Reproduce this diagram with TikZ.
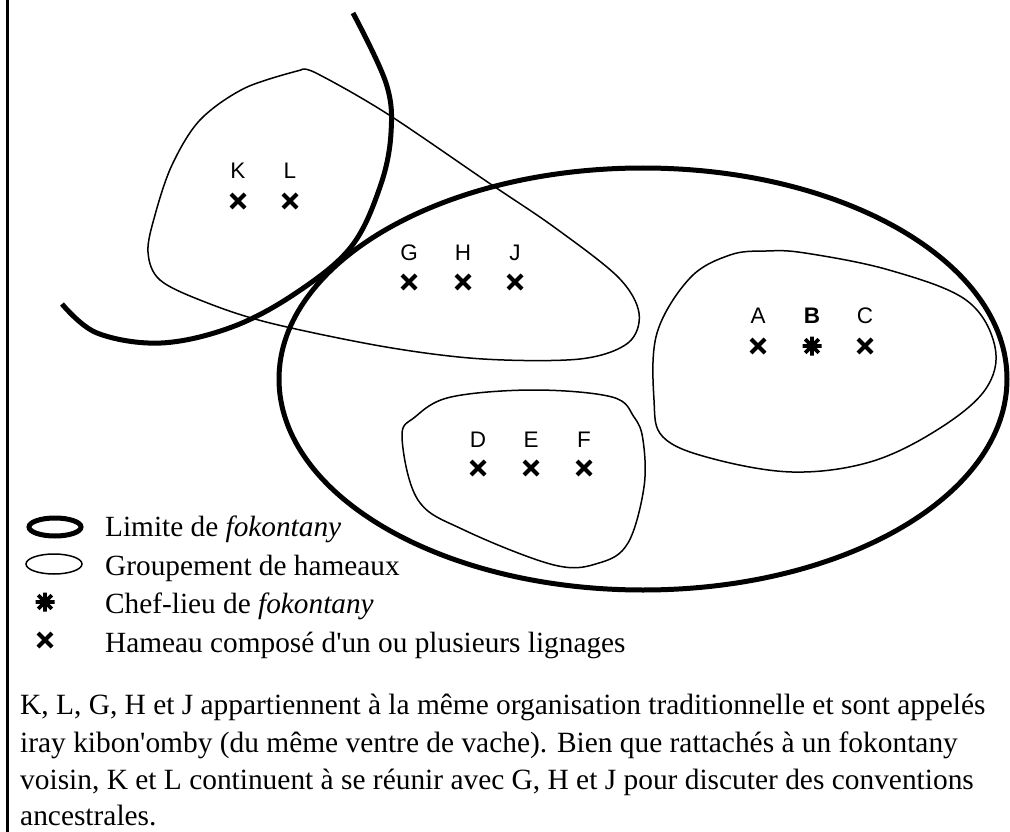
\documentclass[tikz,border=0pt]{standalone}
\usepackage{fontspec}
\setmainfont{Liberation Serif}
\setsansfont{Liberation Sans}
\begin{document}
\begin{tikzpicture}[x=1pt,y=-1pt,
  boundary/.style={line width=5pt},
  groupline/.style={line width=1.5pt},
  lbl/.style={font=\sffamily\fontsize{22.5}{22.5}\selectfont, inner sep=0pt},
  legtext/.style={font=\fontsize{29.3}{29.3}\selectfont, inner sep=0pt, anchor=base west},
  para/.style={font=\fontsize{29.4}{29.4}\selectfont, inner sep=0pt, anchor=base west},
  pics/hamlet/.style={code={\draw[line width=4pt] (-7,-7)--(7,7) (-7,7)--(7,-7);}},
  pics/chef/.style={code={\draw[line width=3.8pt] (-9.5,0)--(9.5,0) (0,-9.5)--(0,9.5) (-6.8,-6.8)--(6.8,6.8) (-6.8,6.8)--(6.8,-6.8);}}
]
\useasboundingbox (0,0) rectangle (1010,832);
% left frame line
\draw[line width=3pt] (7,0) -- (7,832);

% fokontany boundaries
\draw[boundary] (643,379) ellipse [x radius=364, y radius=211];
\draw[boundary] plot[smooth, tension=0.6] coordinates {(353,13) (386,83) (391,133) (380,187) (351,247) (296,293) (232,327) (161,343) (97,333) (62,304)};

% groupements
\draw[groupline] plot[smooth, tension=0.55] coordinates {(301,70) (245,88) (200,120) (172,165) (155,215) (148,252) (160,280) (205,302) (270,323) (386,347) (483,359) (580,359) (628,343) (639,313) (618,277) (554,227) (489,183) (386,113) (316,73) (301,70)};
\draw[groupline] plot[smooth cycle, tension=0.6] coordinates {(766,251) (805,253) (889,270) (966,300) (995,347) (985,390) (937,430) (870,462) (792,472) (710,458) (663,437) (654,400) (657,333) (690,278) (730,255)};
\draw[groupline] plot[smooth cycle, tension=0.6] coordinates {(534,390) (612,397) (634,417) (643,440) (644,487) (628,543) (599,563) (554,565) (464,530) (418,500) (402,437) (415,417) (451,397)};

% hamlets
\node[lbl] (K) at (238,171) {K};
\node[lbl] (L) at (290,171) {L};
\pic at (238,201) {hamlet};
\pic at (290,201) {hamlet};
\node[lbl] (G) at (409,253) {G};
\node[lbl] (H) at (463,253) {H};
\node[lbl] (J) at (515,253) {J};
\pic at (409,282) {hamlet};
\pic at (463,282) {hamlet};
\pic at (515,282) {hamlet};
\node[lbl] (A) at (758,316) {A};
\node[lbl] (B) at (812,316) {\bfseries B};
\node[lbl] (C) at (865,316) {C};
\pic at (758,346) {hamlet};
\pic at (812,346) {chef};
\pic at (865,346) {hamlet};
\node[lbl] (D) at (478,440) {D};
\node[lbl] (E) at (531,440) {E};
\node[lbl] (F) at (584,440) {F};
\pic at (478,468) {hamlet};
\pic at (531,468) {hamlet};
\pic at (584,468) {hamlet};

% legend
\draw[boundary] (55,527) ellipse [x radius=26, y radius=9];
\draw[groupline] (54,564) ellipse [x radius=28, y radius=10];
\pic at (45,602) {chef};
\pic at (45,640) {hamlet};
\node[legtext] (leg1) at (105,536) {Limite de \textit{fokontany}};
\node[legtext] (leg2) at (105,575) {Groupement de hameaux};
\node[legtext] (leg3) at (105,613) {Chef-lieu de \textit{fokontany}};
\node[legtext] (leg4) at (105,652) {Hameau composé d\textquotesingle un ou plusieurs lignages};

% paragraph
\node[para] (p1) at (20,714) {K, L, G, H et J appartiennent à la même organisation traditionnelle et sont appelés};
\node[para] (p2) at (20,752) {iray kibon\textquotesingle omby (du même ventre de vache). Bien que rattachés à un fokontany};
\node[para] (p3) at (20,789) {voisin, K et L continuent à se réunir avec G, H et J pour discuter des conventions};
\node[para] (p4) at (20,825) {ancestrales.};
\end{tikzpicture}
\end{document}
